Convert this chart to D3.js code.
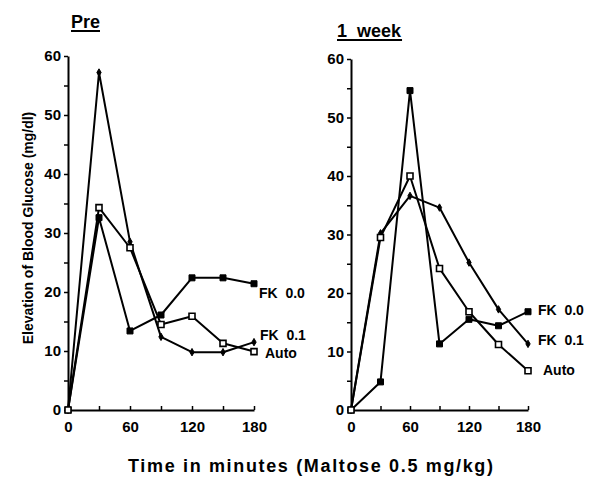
<!DOCTYPE html>
<html>
<head>
<meta charset="utf-8">
<script src="https://cdn.jsdelivr.net/npm/d3@7"></script>
<style>
  body { margin: 0; background: #fff; }
  svg { display: block; }
  text { font-family: "Liberation Sans", Arial, sans-serif; font-weight: bold; fill: #000; }
</style>
</head>
<body>
<svg id="chart" width="601" height="487"></svg>
<script>
// ---- Data ----
const times = [0, 30, 60, 90, 120, 150, 180];
const xTicks = [0, 30, 60, 90, 120, 150, 180];
const xTickLabels = ["0", "", "60", "", "120", "", "180"];
const yTicks = [0, 5, 10, 15, 20, 25, 30, 35, 40, 45, 50, 55, 60];

// Pre panel
const preFK00 = [0, 32.6, 13.4, 16.1, 22.4, 22.4, 21.4];
const preFK01 = [0, 57.2, 28.5, 12.4, 9.8, 9.8, 11.5];
const preAuto = [0, 34.3, 27.5, 14.5, 15.9, 11.3, 9.9];

// 1 week panel
const wkFK00 = [0, 4.8, 54.6, 11.3, 15.5, 14.4, 16.8];
const wkFK01 = [0, 30.2, 36.6, 34.6, 25.2, 17.2, 11.3];
const wkAuto = [0, 29.5, 40.0, 24.2, 16.8, 11.2, 6.7];

const seriesNames = ["FK 0.0", "FK 0.1", "Auto"];
const panelTitles = ["Pre", "1  week"];

// ---- Layout ----
const svg = d3.select("#chart");

const panels = [
  { title: panelTitles[0], x0: 68, x1: 254, y0: 410, y1: 56,
    titleX: 71, titleY: 28,
    series: [
      { name: seriesNames[0], values: preFK00, marker: "fill", lx: 259, ly: 298 },
      { name: seriesNames[1], values: preFK01, marker: "diamond", lx: 260, ly: 340 },
      { name: seriesNames[2], values: preAuto, marker: "open", lx: 265, ly: 358 }
    ]},
  { title: panelTitles[1], x0: 351, x1: 528, y0: 410, y1: 59,
    titleX: 337, titleY: 37,
    series: [
      { name: seriesNames[0], values: wkFK00, marker: "fill", lx: 538, ly: 315 },
      { name: seriesNames[1], values: wkFK01, marker: "diamond", lx: 538, ly: 345 },
      { name: seriesNames[2], values: wkAuto, marker: "open", lx: 543, ly: 375 }
    ]}
];

panels.forEach(p => {
  const x = d3.scaleLinear().domain([0, 180]).range([p.x0, p.x1]);
  const y = d3.scaleLinear().domain([0, 60]).range([p.y0, p.y1]);
  const g = svg.append("g");

  // Y axis
  const yAxis = d3.axisLeft(y).tickValues(yTicks)
    .tickFormat(d => d % 10 === 0 ? d : "")
    .tickSizeInner(4).tickSizeOuter(0).tickPadding(3);
  const ya = g.append("g").attr("transform", `translate(${p.x0},0)`).call(yAxis);
  ya.select(".domain").attr("stroke-width", 2);
  ya.selectAll(".tick line").attr("stroke-width", 1.5);
  ya.selectAll("text").style("font-size", "15px").style("font-family", "Liberation Sans, Arial, sans-serif").style("font-weight", "bold");

  // X axis
  const xAxis = d3.axisBottom(x).tickValues(xTicks)
    .tickFormat((d, i) => xTickLabels[i])
    .tickSizeInner(-4).tickSizeOuter(0).tickPadding(11);
  const xa = g.append("g").attr("transform", `translate(0,${p.y0})`).call(xAxis);
  xa.select(".domain").attr("stroke-width", 2);
  xa.selectAll(".tick line").attr("stroke-width", 1.5);
  xa.selectAll("text").style("font-size", "15px").style("font-family", "Liberation Sans, Arial, sans-serif").style("font-weight", "bold");

  // Lines
  const line = d3.line().x((d, i) => x(times[i])).y(d => y(d));
  p.series.forEach(s => {
    g.append("path").datum(s.values)
      .attr("d", line).attr("fill", "none")
      .attr("stroke", "#000").attr("stroke-width", 2)
      .attr("stroke-linejoin", "round");
  });

  // Markers
  p.series.forEach(s => {
    const sym = s.marker === "diamond"
      ? d3.symbol().type(d3.symbolDiamond).size(16)
      : d3.symbol().type(d3.symbolSquare).size(36);
    g.selectAll(null).data(s.values).enter().append("path")
      .attr("d", sym)
      .attr("transform", (d, i) => `translate(${x(times[i])},${y(d)})`)
      .attr("fill", s.marker === "open" ? "#fff" : "#000")
      .attr("stroke", "#000")
      .attr("stroke-width", s.marker === "open" ? 1.6 : 1);
  });

  // Series labels
  p.series.forEach(s => {
    g.append("text").attr("x", s.lx).attr("y", s.ly)
      .style("font-size", "14px").attr("xml:space", "preserve")
      .text(s.name.replace(" ", "\u00a0\u00a0"));
  });

  // Panel title with underline
  const t = g.append("text").attr("x", p.titleX).attr("y", p.titleY)
    .style("font-size", "18px").attr("xml:space", "preserve")
    .text(p.title.replace("  ", "\u00a0\u00a0"));
  const bb = t.node().getBBox();
  g.append("line").attr("x1", bb.x).attr("x2", bb.x + bb.width)
    .attr("y1", p.titleY + 3).attr("y2", p.titleY + 3)
    .attr("stroke", "#000").attr("stroke-width", 2);
});

// Axis titles
svg.append("text")
  .attr("x", 128).attr("y", 472)
  .attr("textLength", 365).attr("lengthAdjust", "spacing")
  .style("font-size", "18px")
  .text("Time in minutes (Maltose 0.5 mg/kg)");

svg.append("text")
  .attr("transform", "translate(33,228) rotate(-90)")
  .attr("text-anchor", "middle")
  .style("font-size", "14px")
  .text("Elevation of Blood Glucose (mg/dl)");
</script>
</body>
</html>
